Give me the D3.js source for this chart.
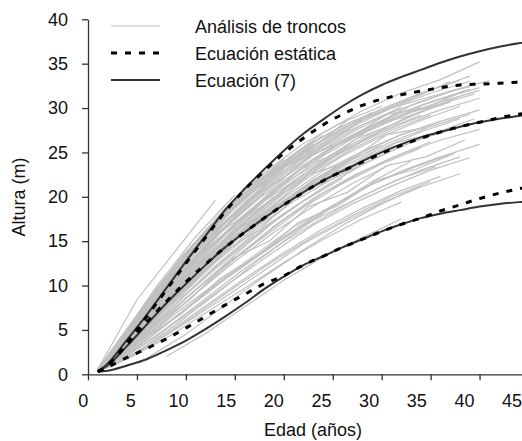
<!DOCTYPE html>
<html>
<head>
<meta charset="UTF-8">
<script src="https://d3js.org/d3.v7.min.js"></script>
<style>
  body { margin: 0; background: #fff; }
  text { font-family: "Liberation Sans", Arial, sans-serif; fill: #111; }
</style>
</head>
<body>
<svg width="522" height="441"></svg>
<script>
// ---- data ----
var xTicks = [0, 5, 10, 15, 20, 25, 30, 35, 40, 45];
var yTicks = [0, 5, 10, 15, 20, 25, 30, 35, 40];
var legendLabels = ["Análisis de troncos", "Ecuación estática", "Ecuación (7)"];

// ages (years) where the model curves were read
var curveAges = [1, 2, 4, 6, 8, 10, 12, 14, 16, 18, 20, 22, 24, 26, 28, 30, 32, 34, 36, 38, 40, 42, 44, 46];
// Ecuación (7), solid
var eq7High = [0.3, 1.2, 3.9, 6.7, 9.7, 12.7, 15.6, 18.5, 20.9, 23.1, 25.2, 27.1, 28.7, 30.2, 31.5, 32.6, 33.5, 34.3, 35.1, 35.8, 36.4, 36.9, 37.3, 37.6];
var eq7Mid  = [0.3, 1.0, 3.2, 5.6, 8.0, 10.2, 12.3, 14.3, 16.0, 17.6, 19.1, 20.5, 21.8, 22.9, 24.0, 25.0, 25.9, 26.7, 27.3, 27.9, 28.4, 28.8, 29.1, 29.4];
var eq7Low  = [0.3, 0.4, 1.0, 1.7, 2.7, 3.8, 5.1, 6.5, 8.0, 9.6, 11.0, 12.3, 13.3, 14.3, 15.2, 16.1, 16.9, 17.6, 18.1, 18.5, 18.9, 19.2, 19.4, 19.5];
// Ecuación estática, dotted
var staticHigh = [0.3, 1.0, 3.6, 6.5, 9.5, 12.5, 15.4, 18.3, 20.8, 22.9, 24.9, 26.6, 28.1, 29.3, 30.3, 31.0, 31.5, 31.9, 32.3, 32.6, 32.7, 32.8, 32.9, 32.9];
var staticMid  = [0.3, 1.0, 3.4, 5.9, 8.2, 10.4, 12.4, 14.3, 16.0, 17.6, 19.1, 20.5, 21.8, 22.9, 23.9, 24.9, 25.8, 26.6, 27.3, 27.9, 28.4, 28.9, 29.3, 29.6];
var staticLow  = [0.3, 0.8, 1.9, 2.9, 4.0, 5.2, 6.5, 7.8, 9.0, 10.2, 11.1, 12.3, 13.3, 14.3, 15.2, 16.1, 16.9, 17.6, 18.4, 19.1, 19.8, 20.4, 20.9, 21.3];

// stem analysis: first age of each tree, heights every treeStep years
var treeStep = 4;
var treeStart = [1,1,1,1,1,1,1,1,1,1,1,1,1,1,1,1,
                 2,2,2,2,2,2,2,2,2,2,2,2,2,2,2,2,
                 3,3,3,3,3,3,3,3,3,3,3,3,3,3,3,3,
                 4,4,4,4,4,4,4,4,4,4,4,4,4,4,4,4, 8, 6,
                 2.5,2.5,2.5,2.5, 1.5,1.5,1.5,1.5, 3.5,3.5,3.5,3.5];
var treeHeights = [
  [0.6, 8.4, 14.0, 19.6],
  [0.5, 5.9, 11.5, 16.2, 20.0, 22.9, 25.6, 27.6, 29.5, 30.7],
  [0.4, 4.9, 9.7, 14.0, 18.0, 21.8, 24.7, 27.2],
  [0.3, 4.1, 8.3, 12.6, 16.2, 19.5, 22.0, 24.2, 26.1, 27.6],
  [0.3, 3.3, 6.9, 10.2, 13.4, 16.6, 18.9],
  [0.5, 6.4, 12.2, 17.4, 21.4, 24.4],
  [0.4, 5.4, 10.4, 15.0, 18.9, 22.5, 25.6, 28.0, 30.3, 31.9, 33.1],
  [0.2, 2.5, 5.6, 9.0, 12.5, 15.8, 18.9, 21.7, 24.0],
  [0.5, 5.7, 10.6, 15.0, 18.4, 21.2],
  [0.4, 4.4, 9.0, 13.5, 17.6, 21.3, 24.4, 27.0, 29.2, 30.7],
  [0.6, 6.7, 12.2, 16.9, 20.7, 24.0, 26.8, 29.2, 31.0, 33.0],
  [0.3, 3.8, 7.9, 12.2, 15.9, 18.8],
  [0.4, 5.1, 9.8, 14.0, 17.3, 20.0, 22.5, 24.8, 26.4],
  [0.5, 6.1, 11.7, 16.8, 20.9, 24.3, 27.1, 29.5],
  [0.3, 3.0, 6.5, 10.0, 13.1, 16.1, 18.9, 21.4, 23.2, 24.8],
  [0.5, 5.5, 10.8, 15.6, 19.5],
  [1.6, 7.9, 13.2, 18.0, 22.0, 25.5, 28.0],
  [1.2, 6.0, 10.5, 14.7, 18.3, 21.8, 24.6, 26.8, 28.6, 30.2],
  [1.0, 4.7, 8.6, 12.2, 15.5, 18.8, 21.5, 23.7, 25.5],
  [1.3, 6.4, 11.2, 15.7, 19.5, 22.5],
  [1.7, 8.3, 13.7, 18.5, 22.0, 25.2, 27.7, 29.9, 31.7, 33.1],
  [1.1, 5.3, 9.8, 14.1, 17.8, 21.0, 23.7, 25.8],
  [1.4, 7.0, 12.2, 17.0, 20.9, 24.3, 27.1, 29.1, 30.7, 32.2],
  [0.8, 3.9, 7.3, 10.7, 13.8, 16.8, 19.0, 21.1, 23.0, 24.5],
  [1.4, 6.9, 11.9, 16.5, 20.3],
  [1.3, 6.3, 11.0, 15.3, 19.0, 22.5, 25.2, 27.4, 29.2],
  [0.7, 3.0, 5.8, 8.7, 11.7, 14.7, 17.1, 19.3, 21.1, 22.6],
  [1.6, 8.0, 13.7, 18.7, 22.7, 26.0, 28.4, 30.2],
  [1.1, 5.7, 9.8, 13.7, 17.4, 20.7, 23.4, 25.5, 27.3, 28.8],
  [1.5, 7.4, 12.7, 17.2, 21.2, 24.6],
  [1.0, 4.9, 9.0, 12.8, 16.4, 19.5, 22.1],
  [1.3, 6.6, 11.5, 15.9, 19.8, 23.3, 26.2, 28.4, 30.1],
  [3.3, 9.9, 15.5, 20.2],
  [2.8, 8.5, 13.7, 18.2, 22.0, 25.3, 27.9, 30.0, 31.7, 33.0],
  [2.3, 7.0, 11.8, 15.9, 19.6, 22.8, 25.4, 27.5, 29.2],
  [1.8, 5.3, 9.1, 12.7, 16.0, 18.9, 21.5, 23.7],
  [2.5, 7.5, 12.2, 16.4, 20.0],
  [3.0, 9.0, 14.3, 18.9, 22.6, 25.7, 28.2, 30.0, 31.3, 32.4],
  [1.4, 4.3, 7.5, 10.7, 13.8, 16.8, 19.2, 21.2, 23.0, 24.4],
  [2.0, 6.3, 10.7, 15.0, 18.8, 21.9, 24.5],
  [2.4, 7.2, 11.8, 15.6, 18.8, 21.6, 24.2, 26.2, 27.9, 29.3],
  [2.9, 8.8, 14.1, 18.7, 22.6, 25.9],
  [1.6, 5.2, 9.1, 13.0, 16.7, 19.8, 22.3, 24.4, 26.2],
  [2.6, 8.1, 13.0, 17.6, 21.4, 24.7, 27.3, 29.5],
  [1.2, 3.7, 6.7, 9.8, 12.8, 15.5, 17.9, 20.0, 21.7],
  [3.1, 9.4, 14.9, 19.5, 23.2, 26.2, 28.5, 30.3, 32.0, 33.6],
  [2.1, 6.5, 10.9, 15.0, 18.4, 21.6],
  [2.8, 8.3, 13.2, 17.7, 21.4, 24.7, 27.0, 29.1, 30.7, 32.1],
  [2.3, 5.7, 9.2, 12.4, 15.5, 18.4, 20.9, 22.9, 24.5, 25.9],
  [3.8, 8.9, 13.7, 17.8, 21.3, 24.6, 27.2, 29.2, 30.7, 32.0],
  [3.0, 7.0, 11.1, 14.8, 18.1, 21.0, 23.6, 25.7],
  [4.5, 10.3, 15.6, 19.9, 23.6, 26.9],
  [3.4, 7.9, 12.2, 16.2, 19.6, 22.5, 25.0, 27.0, 28.5, 29.8],
  [1.9, 4.6, 7.7, 10.8, 13.7, 16.4, 18.7, 20.7, 22.3],
  [4.2, 9.5, 14.5, 18.9, 22.5, 25.6, 28.1, 30.1],
  [2.6, 6.5, 10.5, 14.4, 18.1, 21.0, 23.6],
  [4.9, 11.0, 16.2, 20.7, 24.2],
  [3.6, 8.5, 13.0, 17.1, 20.7, 23.8, 26.2, 28.2, 29.8, 31.1],
  [2.8, 6.7, 10.5, 14.0, 17.4, 20.4, 22.8, 24.8, 26.4, 27.6],
  [4.4, 10.0, 15.0, 19.4, 23.1],
  [1.7, 4.1, 6.9, 9.7, 12.6, 15.2, 17.5, 19.4],
  [4.0, 9.2, 13.9, 18.0, 21.8, 25.0, 27.5, 29.5, 31.0, 32.3],
  [3.2, 7.7, 12.2, 16.4, 19.9, 22.9, 25.1, 27.0, 28.5],
  [4.7, 10.7, 15.8, 20.2, 24.0, 27.2, 29.7, 31.7, 33.2, 35.2],
  [2.0, 4.6, 7.6, 10.6, 13.2, 15.4, 17.5],
  [1.8, 4.5, 7.8, 11.0, 14.0, 16.8, 19.2, 21.2],
  [2.0, 8.2, 12.5, 17.7, 20.6, 24.6, 26.4, 29.3, 30.0, 32.0],
  [1.7, 6.8, 10.7, 15.8, 18.5, 22.5, 23.9, 27.0, 27.8],
  [2.3, 8.2, 14.3, 18.2, 22.7, 25.2, 28.6],
  [1.4, 5.3, 8.5, 12.9, 15.0, 18.9, 20.5, 23.5, 24.5, 26.4],
  [0.9, 6.3, 10.8, 16.0, 19.1, 23.0, 25.0, 28.2, 29.3, 31.1],
  [1.1, 7.2, 13.2, 17.7, 21.9, 24.7],
  [0.7, 5.1, 8.8, 13.6, 16.3, 20.3, 22.3, 25.0],
  [0.6, 3.9, 6.8, 10.8, 13.5, 17.1, 19.0, 21.9, 23.1, 24.9],
  [3.1, 8.4, 13.4, 17.1, 21.2, 23.8, 26.6, 28.3, 30.3, 31.6],
  [3.8, 9.2, 14.9, 18.7, 23.0, 25.4, 28.2],
  [2.7, 7.3, 11.2, 15.5, 18.3, 22.0, 23.8, 26.1, 27.2, 28.8],
  [1.7, 4.8, 8.1, 11.5, 14.6, 17.3, 19.8, 21.9, 23.4]
];

// ---- drawing ----
var svg = d3.select("svg");
var fontSize = "18px";

var x = d3.scaleLinear().domain([0, 45]).range([88, 528.5]);
var xLab = d3.scaleLinear().domain([0, 45]).range([82.7, 511.6]); // labels sit a bit left of ticks
var y = d3.scaleLinear().domain([0, 40]).range([374.3, 19.3]);

var grey = "#c0c0c0", dark = "#333333";

// stem analysis lines
var treeLine = d3.line().x(function(d) { return x(d[0]); }).y(function(d) { return y(d[1]); });
svg.append("g")
  .selectAll("path")
  .data(treeHeights.map(function(hs, i) {
    return hs.map(function(h, k) { return [treeStart[i] + k * treeStep, h]; });
  }))
  .enter().append("path")
  .attr("d", treeLine)
  .attr("fill", "none")
  .attr("stroke", grey)
  .attr("stroke-width", 1.2);

var curve = d3.line()
  .x(function(d, i) { return x(curveAges[i]); })
  .y(function(d) { return y(d); })
  .curve(d3.curveMonotoneX);

svg.append("g").selectAll("path")
  .data([eq7High, eq7Mid, eq7Low])
  .enter().append("path")
  .attr("d", curve)
  .attr("fill", "none")
  .attr("stroke", dark)
  .attr("stroke-width", 2);

svg.append("g").selectAll("path")
  .data([staticHigh, staticMid, staticLow])
  .enter().append("path")
  .attr("d", curve)
  .attr("fill", "none")
  .attr("stroke", "#000")
  .attr("stroke-width", 3)
  .attr("stroke-dasharray", "6,8");

// axes
var yAxis = svg.append("g")
  .attr("transform", "translate(88,0)")
  .call(d3.axisLeft(y).tickValues(yTicks).tickSize(6).tickSizeOuter(0).tickPadding(14));
yAxis.selectAll("text").style("font-size", fontSize).style("font-family", "'Liberation Sans', Arial, sans-serif").attr("fill", "#111");

var xAxis = svg.append("g")
  .attr("transform", "translate(0,374.3)")
  .call(d3.axisBottom(x).tickValues(xTicks).tickFormat("").tickSize(6).tickSizeOuter(0));

var xLabels = svg.append("g")
  .attr("transform", "translate(0,374.3)")
  .call(d3.axisBottom(xLab).tickValues(xTicks).tickSize(0).tickPadding(20));
xLabels.select(".domain").remove();
xLabels.selectAll("text").style("font-size", fontSize).style("font-family", "'Liberation Sans', Arial, sans-serif").attr("fill", "#111");

svg.selectAll(".domain, .tick line").attr("stroke", dark).attr("stroke-width", 1.3);

svg.append("text")
  .attr("transform", "translate(25,197) rotate(-90)")
  .attr("text-anchor", "middle")
  .style("font-size", fontSize)
  .text("Altura (m)");

svg.append("text")
  .attr("x", 313).attr("y", 436)
  .attr("text-anchor", "middle")
  .style("font-size", fontSize)
  .text("Edad (años)");

// legend
var legendStyles = [
  {stroke: grey, width: 1.2, dash: null},
  {stroke: "#000", width: 3, dash: "6,8"},
  {stroke: dark, width: 2, dash: null}
];
var legend = svg.append("g").selectAll("g")
  .data(legendLabels)
  .enter().append("g")
  .attr("transform", function(d, i) { return "translate(0," + (26 + i * 27) + ")"; });
legend.append("line")
  .attr("x1", 111).attr("x2", 160)
  .attr("stroke", function(d, i) { return legendStyles[i].stroke; })
  .attr("stroke-width", function(d, i) { return legendStyles[i].width; })
  .attr("stroke-dasharray", function(d, i) { return legendStyles[i].dash; });
legend.append("text")
  .attr("x", 195).attr("y", 6.5)
  .style("font-size", fontSize)
  .text(function(d) { return d; });
</script>
</body>
</html>
